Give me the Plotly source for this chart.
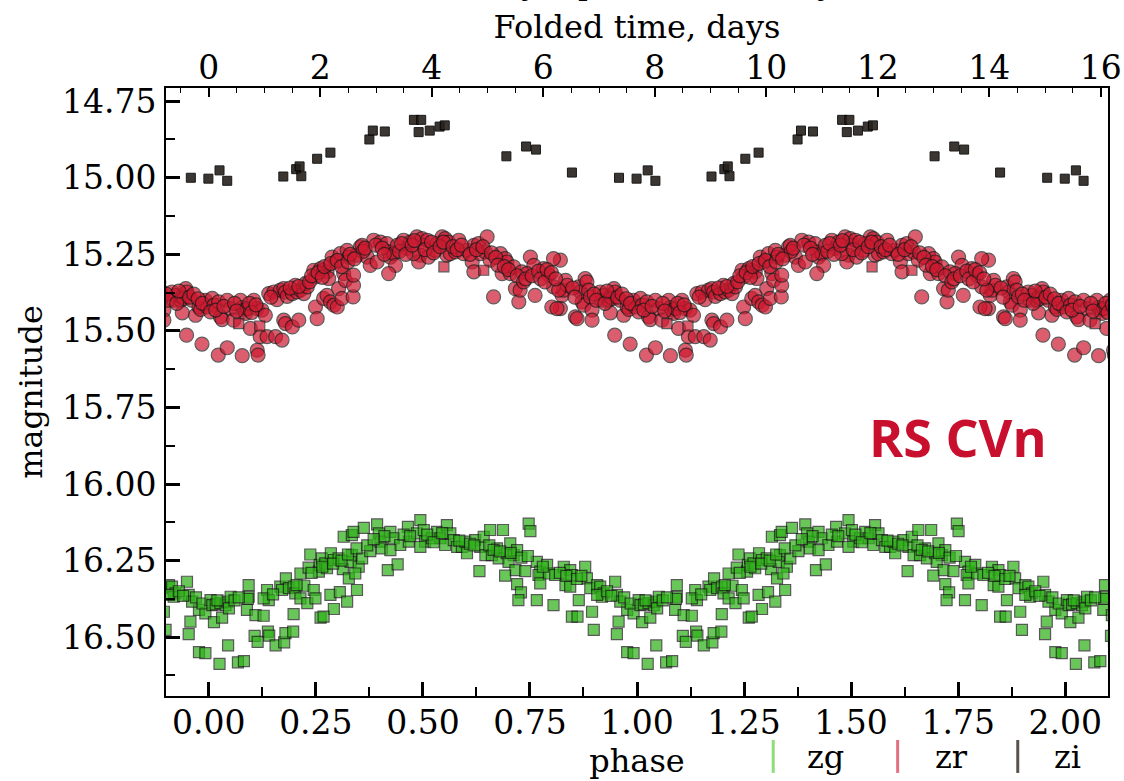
import numpy as np
import plotly.graph_objects as go

PERIOD_DAYS = 7.68

# ---------------- data (phase in [0,1), magnitude) ----------------
zr_phase = [
    0.821, 0.825, 0.829, 0.833, 0.837, 0.821, 0.856, 0.860, 0.864, 0.868,
    0.872, 0.876, 0.879, 0.883, 0.887, 0.891, 0.895, 0.895, 0.914, 0.918,
    0.922, 0.934, 0.938, 0.946, 0.949, 0.942, 0.938, 0.948, 0.969, 0.984,
    0.961, 0.977, 0.992, 0.981, 0.996,
    0.022, 0.043, 0.078, 0.113, 0.115, 0.008, 0.012, 0.004, 0.023, 0.027,
    0.031, 0.016, 0.043, 0.051, 0.058, 0.074, 0.078, 0.082, 0.086, 0.090,
    0.105, 0.113, 0.124, 0.132, 0.097, 0.120, 0.136, 0.156, 0.171, 0.175,
    0.179, 0.195, 0.210, 0.140, 0.152, 0.159, 0.167, 0.175, 0.179, 0.183,
    0.195, 0.202, 0.206, 0.214, 0.222, 0.226, 0.230, 0.245, 0.249, 0.261,
    0.268, 0.276, 0.280, 0.249, 0.253, 0.268, 0.276, 0.284, 0.292, 0.300,
    0.303, 0.311, 0.315, 0.319, 0.337, 0.338, 0.338, 0.288, 0.296, 0.307,
    0.323, 0.327, 0.346, 0.354, 0.358, 0.370, 0.377, 0.393, 0.385, 0.401,
    0.416, 0.420, 0.424, 0.432, 0.436, 0.420, 0.440, 0.455, 0.463, 0.471,
    0.486, 0.498, 0.502, 0.510, 0.494, 0.490, 0.478, 0.513, 0.529, 0.533,
    0.545, 0.552, 0.560, 0.556, 0.564, 0.576, 0.584, 0.595, 0.603, 0.615,
    0.619, 0.630, 0.634, 0.646, 0.650, 0.657, 0.619, 0.665, 0.681, 0.685,
    0.692, 0.696, 0.704, 0.712, 0.716, 0.724, 0.727, 0.731, 0.751, 0.759,
    0.762, 0.743, 0.782, 0.794, 0.805, 0.805, 0.801, 0.817, 0.813,
    0.360, 0.365, 0.390, 0.405, 0.410, 0.445, 0.450, 0.460, 0.475, 0.480,
    0.505, 0.520, 0.525, 0.540, 0.548, 0.570, 0.580, 0.590, 0.610, 0.625,
    0.640, 0.660, 0.670, 0.675, 0.690, 0.700, 0.720, 0.735, 0.740, 0.755,
    0.770, 0.775, 0.785, 0.790, 0.800, 0.810,
    0.145, 0.190, 0.210, 0.235, 0.240, 0.255, 0.265, 0.270, 0.285, 0.300,
    0.310, 0.325, 0.330, 0.340,
    0.850, 0.855, 0.900, 0.905, 0.925, 0.930, 0.955, 0.965, 0.975, 0.985,
    0.035, 0.060, 0.065, 0.095, 0.100, 0.110,
]
zr_mag = [
    15.269, 15.384, 15.367, 15.335, 15.351, 15.427, 15.454, 15.460, 15.356, 15.373,
    15.405, 15.416, 15.329, 15.340, 15.367, 15.389, 15.432, 15.465, 15.373, 15.400,
    15.384, 15.400, 15.389, 15.362, 15.373, 15.394, 15.441, 15.514, 15.449, 15.543,
    15.400, 15.422, 15.400, 15.430, 15.422,
    15.579, 15.555, 15.581, 15.563, 15.579, 15.394, 15.416, 15.438, 15.405, 15.454,
    15.463, 15.432, 15.400, 15.427, 15.465, 15.400, 15.424, 15.432, 15.443, 15.427,
    15.400, 15.427, 15.432, 15.449, 15.492, 15.519, 15.519, 15.519, 15.530, 15.465,
    15.476, 15.487, 15.465, 15.378, 15.373, 15.398, 15.367, 15.362, 15.373, 15.387,
    15.378, 15.351, 15.373, 15.367, 15.378, 15.345, 15.356, 15.302, 15.324, 15.297,
    15.302, 15.307, 15.329, 15.422, 15.460, 15.394, 15.384, 15.405, 15.416, 15.422,
    15.362, 15.394, 15.313, 15.335, 15.389, 15.351, 15.318, 15.259, 15.275, 15.248,
    15.237, 15.259, 15.253, 15.226, 15.221, 15.259, 15.286, 15.275, 15.204, 15.210,
    15.215, 15.242, 15.259, 15.248, 15.286, 15.313, 15.221, 15.204, 15.231, 15.210,
    15.193, 15.199, 15.221, 15.204, 15.253, 15.275, 15.248, 15.259, 15.237, 15.215,
    15.193, 15.199, 15.210, 15.253, 15.248, 15.242, 15.204, 15.248, 15.237, 15.275,
    15.221, 15.215, 15.248, 15.242, 15.193, 15.269, 15.307, 15.389, 15.248, 15.313,
    15.264, 15.275, 15.313, 15.291, 15.362, 15.405, 15.367, 15.307, 15.259, 15.286,
    15.384, 15.313, 15.297, 15.318, 15.264, 15.356, 15.422, 15.367, 15.427,
    15.240, 15.230, 15.220, 15.230, 15.250, 15.240, 15.215, 15.250, 15.220, 15.205,
    15.235, 15.210, 15.245, 15.225, 15.210, 15.225, 15.235, 15.220, 15.250, 15.235,
    15.225, 15.245, 15.260, 15.285, 15.290, 15.300, 15.320, 15.340, 15.330, 15.320,
    15.305, 15.330, 15.340, 15.300, 15.310, 15.330,
    15.390, 15.360, 15.355, 15.340, 15.320, 15.310, 15.325, 15.290, 15.280, 15.270,
    15.290, 15.275, 15.250, 15.265,
    15.360, 15.390, 15.380, 15.400, 15.410, 15.370, 15.390, 15.380, 15.395, 15.410,
    15.420, 15.410, 15.435, 15.410, 15.440, 15.415,
]

zr_sq_phase = [0.070, 0.119, 0.549, 0.642]
zr_sq_mag = [15.476, 15.484, 15.291, 15.302]

zg_phase = [
    0.977, 0.957, 0.953, 0.977, 0.992, 0.025, 0.068, 0.082, 0.045, 0.992,
    0.012, 0.031, 0.004, 0.008, 0.016, 0.027, 0.039, 0.043, 0.051, 0.047,
    0.093, 0.093, 0.091, 0.089, 0.109, 0.128, 0.107, 0.114, 0.138, 0.141,
    0.156, 0.176, 0.179, 0.197, 0.198, 0.136, 0.140, 0.128, 0.167, 0.171,
    0.180, 0.187, 0.198, 0.202, 0.214, 0.223, 0.230, 0.245, 0.249, 0.214,
    0.233, 0.237, 0.257, 0.259, 0.264, 0.272, 0.276, 0.285, 0.292, 0.303,
    0.313, 0.327, 0.334, 0.331, 0.350, 0.358, 0.342, 0.284, 0.292, 0.306,
    0.323, 0.346, 0.261, 0.268, 0.377, 0.315, 0.334, 0.338, 0.362, 0.393,
    0.397, 0.401, 0.404, 0.424, 0.432, 0.447, 0.424, 0.418, 0.441, 0.465,
    0.467, 0.486, 0.494, 0.502, 0.505, 0.494, 0.521, 0.533, 0.541, 0.552,
    0.556, 0.564, 0.572, 0.580, 0.591, 0.599, 0.603, 0.622, 0.634, 0.642,
    0.657, 0.646, 0.632, 0.661, 0.673, 0.687, 0.677, 0.696, 0.704, 0.712,
    0.720, 0.700, 0.716, 0.739, 0.692, 0.720, 0.729, 0.723, 0.747, 0.751,
    0.766, 0.774, 0.770, 0.774, 0.790, 0.794, 0.809, 0.766, 0.805, 0.829,
    0.833, 0.844, 0.848, 0.844, 0.848, 0.861, 0.864, 0.879, 0.883, 0.891,
    0.895, 0.899, 0.907, 0.914, 0.922, 0.918, 0.907, 0.949, 0.953, 0.961,
    0.410, 0.455, 0.470, 0.510, 0.525, 0.545, 0.585, 0.610, 0.620, 0.655,
    0.665, 0.680, 0.705, 0.730, 0.745, 0.780, 0.820, 0.835, 0.860, 0.870,
    0.930, 0.940, 0.970, 0.985, 0.020, 0.060, 0.070, 0.150, 0.205, 0.240,
    0.265, 0.290, 0.310, 0.325, 0.345, 0.370, 0.385,
]
zg_mag = [
    16.411, 16.449, 16.490, 16.549, 16.552, 16.587, 16.582, 16.578, 16.527, 16.422,
    16.451, 16.436, 16.379, 16.395, 16.393, 16.389, 16.395, 16.384, 16.368, 16.406,
    16.330, 16.368, 16.375, 16.411, 16.428, 16.430, 16.496, 16.515, 16.482, 16.495,
    16.527, 16.517, 16.487, 16.482, 16.425, 16.346, 16.379, 16.373, 16.335, 16.346,
    16.308, 16.340, 16.335, 16.357, 16.373, 16.332, 16.389, 16.346, 16.373, 16.292,
    16.273, 16.230, 16.286, 16.264, 16.243, 16.259, 16.275, 16.226, 16.248, 16.243,
    16.278, 16.308, 16.232, 16.254, 16.270, 16.243, 16.292, 16.362, 16.408, 16.353,
    16.384, 16.346, 16.436, 16.433, 16.219, 16.172, 16.167, 16.156, 16.143, 16.132,
    16.161, 16.188, 16.210, 16.156, 16.177, 16.199, 16.216, 16.281, 16.262, 16.140,
    16.188, 16.161, 16.118, 16.150, 16.188, 16.205, 16.177, 16.156, 16.177, 16.199,
    16.134, 16.161, 16.183, 16.205, 16.205, 16.188, 16.226, 16.183, 16.205, 16.172,
    16.150, 16.232, 16.284, 16.232, 16.210, 16.150, 16.243, 16.226, 16.194, 16.232,
    16.216, 16.254, 16.281, 16.284, 16.299, 16.327, 16.354, 16.379, 16.129, 16.154,
    16.254, 16.286, 16.297, 16.324, 16.264, 16.292, 16.297, 16.379, 16.395, 16.270,
    16.330, 16.281, 16.297, 16.335, 16.433, 16.433, 16.379, 16.270, 16.308, 16.340,
    16.417, 16.476, 16.330, 16.335, 16.357, 16.368, 16.362, 16.319, 16.362, 16.384,
    16.170, 16.165, 16.170, 16.165, 16.190, 16.160, 16.185, 16.195, 16.200, 16.200,
    16.215, 16.220, 16.225, 16.240, 16.235, 16.270, 16.290, 16.300, 16.310, 16.300,
    16.350, 16.365, 16.370, 16.390, 16.380, 16.380, 16.370, 16.360, 16.330, 16.290,
    16.270, 16.260, 16.250, 16.230, 16.210, 16.200, 16.180,
]

zi_phase = [
    0.958, 0.999, 0.025, 0.043, 0.174, 0.204, 0.212, 0.216, 0.253, 0.284,
    0.375, 0.383, 0.411, 0.479, 0.496, 0.490, 0.516, 0.539, 0.551, 0.695,
    0.741, 0.764, 0.848,
]
zi_mag = [
    15.000, 15.003, 14.976, 15.010, 14.996, 14.972, 14.963, 14.995, 14.938, 14.918,
    14.875, 14.846, 14.849, 14.811, 14.811, 14.851, 14.846, 14.833, 14.829, 14.930,
    14.898, 14.908, 14.983,
]

cycles = [-1, 0, 1, 2]


def unfold(ph):
    return np.concatenate([np.asarray(ph, dtype=float) + k for k in cycles])


def repeat(mag):
    return np.concatenate([np.asarray(mag, dtype=float) for _ in cycles])


RED = "rgb(206,26,48)"
GREEN = "rgb(48,178,26)"
DARK = "rgb(38,33,28)"
EDGE = "rgb(25,25,25)"

fig = go.Figure()
fig.add_trace(go.Scatter(
    x=unfold(zg_phase), y=repeat(zg_mag), mode="markers", showlegend=False,
    marker=dict(symbol="square", size=11, color=GREEN, opacity=0.72,
                line=dict(color=EDGE, width=1.2)),
    hoverinfo="skip"))
fig.add_trace(go.Scatter(
    x=unfold(zr_phase), y=repeat(zr_mag), mode="markers", showlegend=False,
    marker=dict(symbol="circle", size=14, color=RED, opacity=0.7,
                line=dict(color=EDGE, width=1.2)),
    hoverinfo="skip"))
fig.add_trace(go.Scatter(
    x=unfold(zr_sq_phase), y=repeat(zr_sq_mag), mode="markers", showlegend=False,
    marker=dict(symbol="square", size=10, color=RED, opacity=0.7,
                line=dict(color=EDGE, width=1.2)),
    hoverinfo="skip"))
fig.add_trace(go.Scatter(
    x=unfold(zi_phase), y=repeat(zi_mag), mode="markers", showlegend=False,
    marker=dict(symbol="square", size=9, color=DARK, opacity=0.9,
                line=dict(color="black", width=1)),
    hoverinfo="skip"))
# invisible trace bound to the top (days) axis
fig.add_trace(go.Scatter(x=[None], y=[None], xaxis="x2", yaxis="y",
                         showlegend=False, hoverinfo="skip"))

FS = 33
tickfont = dict(family="DejaVu Serif", size=FS, color="black")
titlefont = dict(family="DejaVu Serif", size=32, color="black")

fig.update_layout(
    width=1124, height=781,
    margin=dict(l=166, r=16, t=88, b=85, pad=0),
    paper_bgcolor="white", plot_bgcolor="white",
    font=dict(family="DejaVu Serif", size=FS, color="black"),
    xaxis=dict(
        range=[-0.1, 2.1], tickmode="linear", tick0=0, dtick=0.25, tickformat=".2f",
        ticks="inside", ticklen=14, tickwidth=2.5, tickcolor="black",
        minor=dict(ticks="inside", dtick=0.125, ticklen=9, tickwidth=1.5, tickcolor="black"),
        showline=True, linewidth=2, linecolor="black", showgrid=False, zeroline=False,
        tickfont=tickfont, ticklabelstandoff=-4, automargin=False,
        title=dict(text="phase", font=titlefont, standoff=0),
    ),
    xaxis2=dict(
        overlaying="x", side="top", anchor="y",
        range=[-0.1 * PERIOD_DAYS, 2.1 * PERIOD_DAYS], tickmode="linear", tick0=0, dtick=2,
        ticks="inside", ticklen=9, tickwidth=1.5, tickcolor="black",
        minor=dict(ticks="inside", dtick=0.5, ticklen=5, tickwidth=1.2, tickcolor="black"),
        showline=True, linewidth=2, linecolor="black", showgrid=False, zeroline=False,
        tickfont=tickfont, ticklabelstandoff=-6, automargin=False,
        title=dict(text="Folded time, days", font=titlefont, standoff=0),
    ),
    yaxis=dict(
        range=[16.692, 14.707], tickmode="linear", tick0=14.75, dtick=0.25, tickformat=".2f",
        ticks="inside", ticklen=14, tickwidth=2.5, tickcolor="black",
        minor=dict(ticks="inside", dtick=0.125, ticklen=9, tickwidth=1.5, tickcolor="black"),
        showline=True, linewidth=2, linecolor="black", mirror=True,
        showgrid=False, zeroline=False,
        tickfont=tickfont, ticklabelstandoff=1, automargin=False,
        title=dict(text="magnitude", font=titlefont, standoff=10),
    ),
)

# star name label
fig.add_annotation(
    xref="paper", yref="paper", x=0.841, y=0.426, xanchor="center", yanchor="middle",
    text="<b>RS CVn</b>", showarrow=False,
    font=dict(family="Open Sans", size=52, color="rgb(200,16,46)"))

# clipped heading at the very top
fig.add_annotation(
    xref="paper", yref="paper", x=0.148, y=1.140, xanchor="left", yanchor="bottom",
    text="<u>ZTF18aanvzuyn</u>, period: 7.68 days", showarrow=False,
    font=dict(family="DejaVu Serif", size=31, color="black"))

# legend: short vertical bars + labels below the axes
legend_items = [("zg", "rgb(140,222,118)", 0.6446, 0.6785),
                ("zr", "rgb(226,112,128)", 0.7767, 0.8146),
                ("zi", "rgb(92,82,76)", 0.9042, 0.9406)]
for name, col, xl, xt in legend_items:
    fig.add_shape(type="line", xref="paper", yref="paper", x0=xl, x1=xl,
                  y0=-0.0723, y1=-0.1265, line=dict(color=col, width=3))
    fig.add_annotation(xref="paper", yref="paper", x=xt, y=-0.100, xanchor="left",
                       yanchor="middle", text=name, showarrow=False,
                       font=dict(family="DejaVu Serif", size=32, color="black"))

fig.write_html("out.html")
